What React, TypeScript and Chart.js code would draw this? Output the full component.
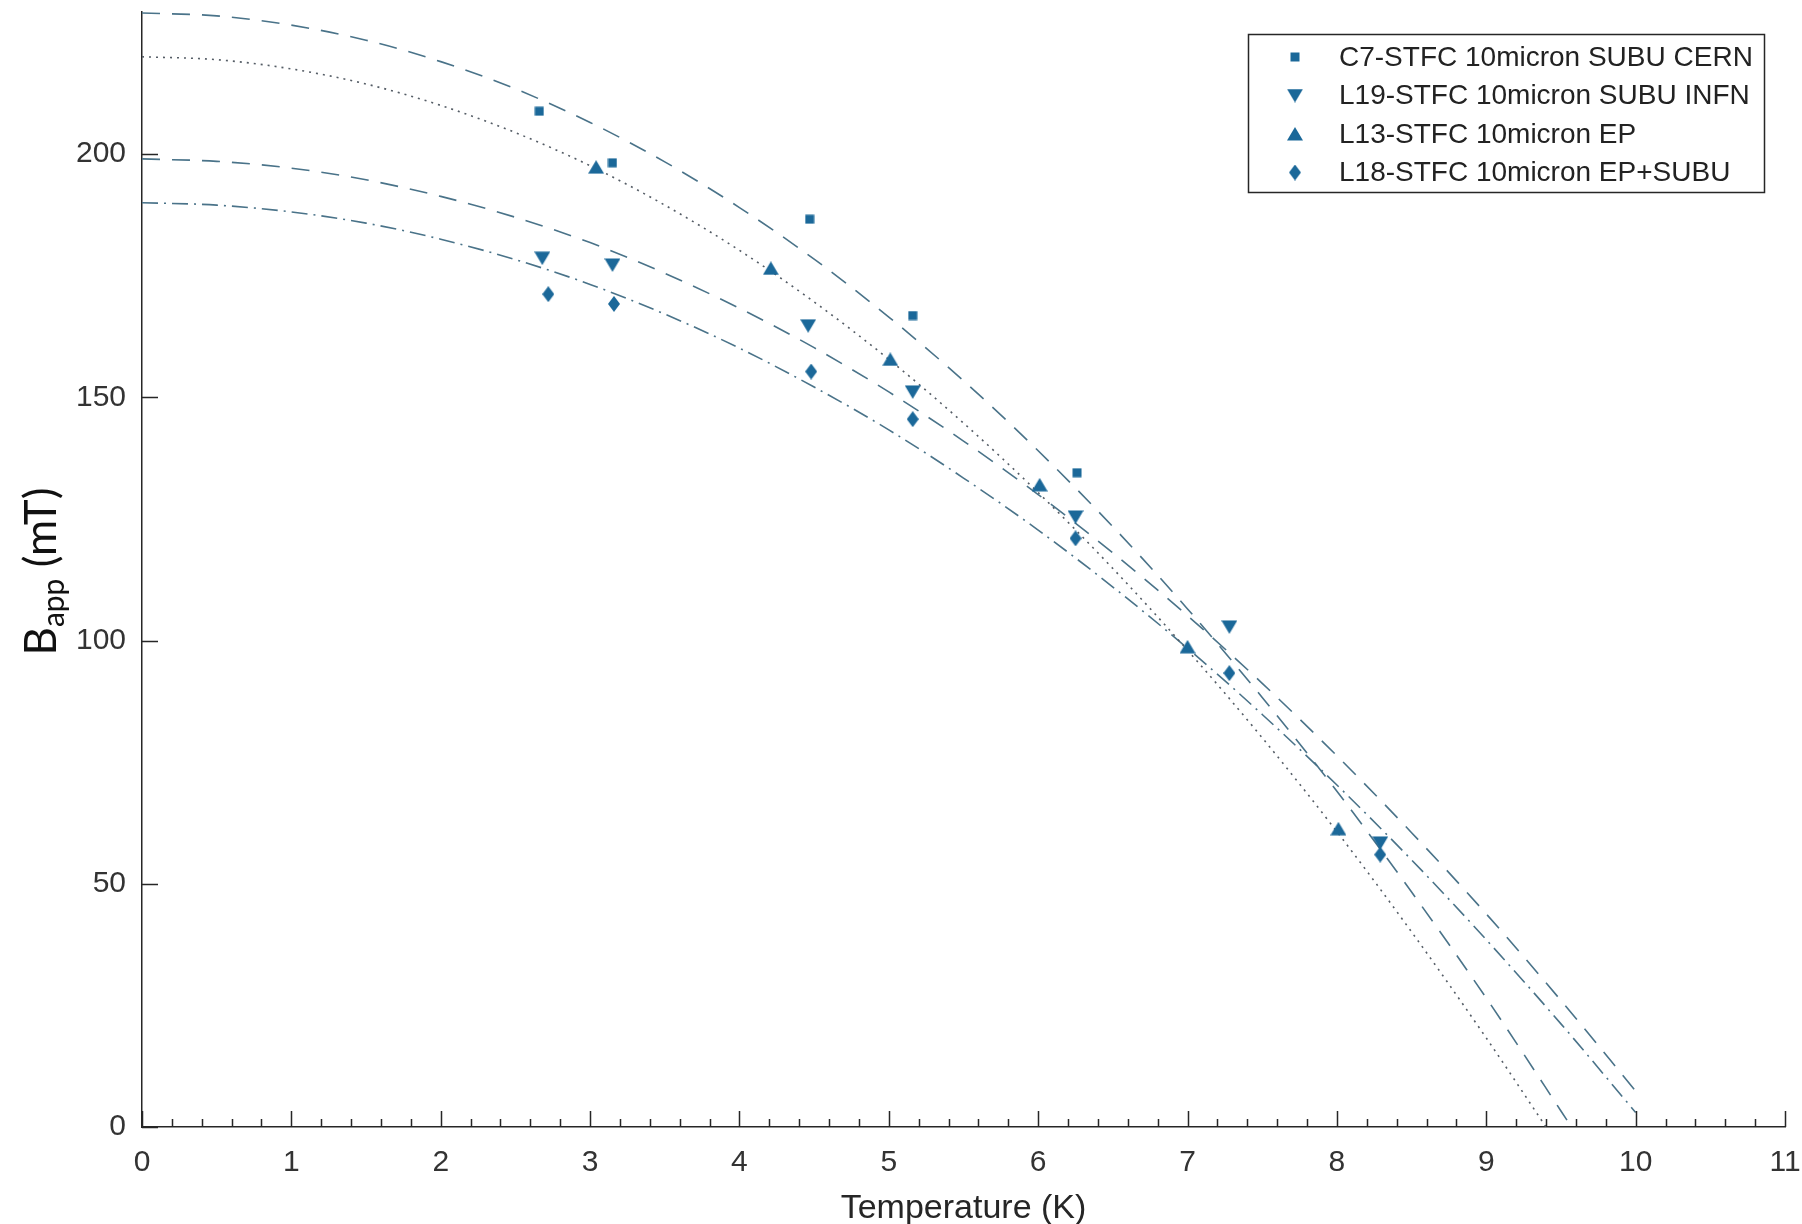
import React, { useEffect, useRef } from "react";
import { Chart, registerables } from "chart.js";

Chart.register(...registerables);

// ---------------- data ----------------
const seriesLabels = [
  "C7-STFC 10micron SUBU CERN",
  "L19-STFC 10micron SUBU INFN",
  "L13-STFC 10micron EP",
  "L18-STFC 10micron EP+SUBU",
];

const c7Temps = [2.66, 3.15, 4.47, 5.16, 6.26];
const c7Field = [208.8, 198.2, 186.6, 166.8, 134.5];

const l19Temps = [2.68, 3.15, 4.46, 5.16, 6.25, 7.28, 8.29];
const l19Field = [178.6, 177.2, 164.7, 151.1, 125.4, 102.8, 58.4];

const l13Temps = [3.04, 4.21, 5.01, 6.01, 7.0, 8.01];
const l13Field = [197.3, 176.5, 157.8, 132.0, 98.7, 61.3];

const l18Temps = [2.72, 3.16, 4.48, 5.16, 6.25, 7.28, 8.29];
const l18Field = [171.2, 169.2, 155.3, 145.5, 121.0, 93.3, 56.0];

// fitted curves
const fitC7Temps = [0, 0.5, 1, 1.5, 2, 2.5, 3, 3.5, 4, 4.5, 5, 5.5, 6, 6.5, 7, 7.5, 8, 8.5, 9, 9.5, 9.57];
const fitC7Field = [229.0, 228.4, 226.5, 223.4, 219.0, 213.4, 206.5, 198.4, 189.0, 178.4, 166.5, 153.4, 139.0, 123.4, 106.5, 88.3, 69.0, 48.3, 26.5, 3.3, 0];

const fitL13Temps = [0, 0.5, 1, 1.5, 2, 2.5, 3, 3.5, 4, 4.5, 5, 5.5, 6, 6.5, 7, 7.5, 8, 8.5, 9, 9.4];
const fitL13Field = [220.0, 219.4, 217.5, 214.4, 210.0, 204.4, 197.6, 189.5, 180.2, 169.6, 157.8, 144.7, 130.4, 114.8, 98.0, 80.0, 60.7, 40.1, 18.3, 0];

const fitL19Temps = [0, 0.5, 1, 1.5, 2, 2.5, 3, 3.5, 4, 4.5, 5, 5.5, 6, 6.5, 7, 7.5, 8, 8.5, 9, 9.5, 10];
const fitL19Field = [199.0, 198.5, 197.1, 194.7, 191.3, 187.0, 181.8, 175.5, 168.3, 160.2, 151.1, 141.0, 130.0, 118.0, 105.1, 91.2, 76.3, 60.5, 43.8, 26.0, 7.4];

const fitL18Temps = [0, 0.5, 1, 1.5, 2, 2.5, 3, 3.5, 4, 4.5, 5, 5.5, 6, 6.5, 7, 7.5, 8, 8.5, 9, 9.5, 10];
const fitL18Field = [190.0, 189.5, 188.1, 185.8, 182.5, 178.3, 173.2, 167.1, 160.1, 152.1, 143.3, 133.4, 122.7, 111.0, 98.4, 84.8, 70.3, 54.9, 38.5, 21.2, 3.0];

const xMajorTicks = [0, 1, 2, 3, 4, 5, 6, 7, 8, 9, 10, 11];
const yMajorTicks = [0, 50, 100, 150, 200];
const xTitle = "Temperature (K)";
const yTitleMain = "B";
const yTitleSub = "app";
const yTitleUnit = " (mT)";

// ---------------- styling ----------------
const MARKER = "#1b6899";
const FIT_DASH = "#4a7389";
const FIT_DOT = "#555d66";
const AXIS = "#262626";
const TICK_TEXT = "#333333";
const SANS = "'Liberation Sans', Arial, Helvetica, sans-serif";

function toPoints(xs: number[], ys: number[]) {
  return xs.map((x, i) => ({ x, y: ys[i] }));
}

function makeMarker(shape: string): HTMLCanvasElement {
  const c = document.createElement("canvas");
  let w = 10, h = 10;
  if (shape === "down" || shape === "up") { w = 16; h = 14; }
  if (shape === "diamond") { w = 12; h = 16; }
  c.width = w; c.height = h;
  const g = c.getContext("2d")!;
  g.fillStyle = MARKER;
  g.beginPath();
  if (shape === "square") {
    g.rect(0.5, 0.5, w - 1, h - 1);
  } else if (shape === "down") {
    g.moveTo(0, 0.5); g.lineTo(w, 0.5); g.lineTo(w / 2, h); g.closePath();
  } else if (shape === "up") {
    g.moveTo(w / 2, 0); g.lineTo(w, h - 0.5); g.lineTo(0, h - 0.5); g.closePath();
  } else {
    g.moveTo(w / 2, 0); g.lineTo(w, h / 2); g.lineTo(w / 2, h); g.lineTo(0, h / 2); g.closePath();
  }
  g.fill();
  return c;
}

export default function App() {
  const ref = useRef<HTMLCanvasElement | null>(null);

  useEffect(() => {
    if (!ref.current) return;
    const markers = [makeMarker("square"), makeMarker("down"), makeMarker("up"), makeMarker("diamond")];

    const decorPlugin = {
      id: "matlabDecor",
      afterDraw(chart: any) {
        const ctx = chart.ctx as CanvasRenderingContext2D;
        const xs = chart.scales.x;
        const ys = chart.scales.y;
        const area = chart.chartArea;
        ctx.save();
        // inward tick marks
        ctx.strokeStyle = AXIS;
        ctx.lineWidth = 1.5;
        ctx.beginPath();
        for (let i = 0; i < xMajorTicks.length; i++) {
          const v = xMajorTicks[i];
          const px = Math.round(xs.getPixelForValue(v)) + 0.5;
          ctx.moveTo(px, area.bottom);
          ctx.lineTo(px, area.bottom - 16);
          if (i < xMajorTicks.length - 1) {
            const next = xMajorTicks[i + 1];
            for (let k = 1; k < 5; k++) {
              const mv = v + ((next - v) * k) / 5;
              const mx = Math.round(xs.getPixelForValue(mv)) + 0.5;
              ctx.moveTo(mx, area.bottom);
              ctx.lineTo(mx, area.bottom - 8);
            }
          }
        }
        for (const v of yMajorTicks) {
          const py = Math.round(ys.getPixelForValue(v)) + 0.5;
          ctx.moveTo(area.left, py);
          ctx.lineTo(area.left + 16, py);
        }
        ctx.stroke();

        // y axis title with subscript
        ctx.fillStyle = "#111111";
        const mainFont = "44px Lato, 'Open Sans', sans-serif";
        const subFont = "30px Lato, 'Open Sans', sans-serif";
        ctx.font = mainFont;
        const wB = ctx.measureText(yTitleMain).width;
        const wU = ctx.measureText(yTitleUnit).width;
        ctx.font = subFont;
        const wS = ctx.measureText(yTitleSub).width;
        const total = wB + wS + wU;
        const cy = (area.top + area.bottom) / 2 + 2;
        ctx.translate(56, cy);
        ctx.rotate(-Math.PI / 2);
        ctx.textBaseline = "alphabetic";
        ctx.textAlign = "left";
        let cx = -total / 2;
        ctx.font = mainFont;
        ctx.fillText(yTitleMain, cx, 0);
        cx += wB;
        ctx.font = subFont;
        ctx.fillText(yTitleSub, cx, 8);
        cx += wS;
        ctx.font = mainFont;
        ctx.fillText(yTitleUnit, cx, 0);
        ctx.restore();

        // legend box
        ctx.save();
        const bx = 1248, by = 34, bw = 516, bh = 158;
        ctx.fillStyle = "#ffffff";
        ctx.fillRect(bx, by, bw, bh);
        ctx.strokeStyle = AXIS;
        ctx.lineWidth = 1.5;
        ctx.strokeRect(bx + 0.5, by + 0.5, bw, bh);
        ctx.font = "28px " + SANS;
        ctx.fillStyle = "#222222";
        ctx.textBaseline = "middle";
        ctx.textAlign = "left";
        seriesLabels.forEach((lab, i) => {
          const ry = 57 + i * 38.5;
          const m = markers[i];
          ctx.drawImage(m, 1295 - m.width / 2, ry - m.height / 2);
          ctx.fillText(lab, 1339, ry + 1);
        });
        ctx.restore();
      },
    };

    const pointDs = (i: number, xs: number[], ys: number[]) => ({
      label: seriesLabels[i],
      data: toPoints(xs, ys),
      showLine: false,
      pointStyle: markers[i],
      pointRadius: 8,
      pointHoverRadius: 8,
      backgroundColor: MARKER,
      borderColor: MARKER,
    });
    const fitDs = (label: string, xs: number[], ys: number[], dash: number[], color: string) => ({
      label,
      data: toPoints(xs, ys),
      showLine: true,
      pointRadius: 0,
      borderColor: color,
      borderWidth: 1.6,
      borderDash: dash,
      cubicInterpolationMode: "monotone",
      fill: false,
    });

    const chart = new Chart(ref.current, {
      type: "line",
      data: {
        datasets: [
          pointDs(0, c7Temps, c7Field),
          pointDs(1, l19Temps, l19Field),
          pointDs(2, l13Temps, l13Field),
          pointDs(3, l18Temps, l18Field),
          fitDs("C7 fit", fitC7Temps, fitC7Field, [18, 12], FIT_DASH),
          fitDs("L19 fit", fitL19Temps, fitL19Field, [18, 12], FIT_DASH),
          fitDs("L13 fit", fitL13Temps, fitL13Field, [2, 5], FIT_DOT),
          fitDs("L18 fit", fitL18Temps, fitL18Field, [16, 6, 2, 6], FIT_DASH),
        ] as any,
      },
      options: {
        responsive: false,
        devicePixelRatio: 1,
        animation: false,
        layout: { padding: { top: 12, right: 17, left: 0, bottom: 0 } },
        plugins: {
          legend: { display: false },
          title: { display: false },
          tooltip: { enabled: false },
        },
        scales: {
          x: {
            type: "linear",
            position: "bottom",
            min: 0,
            max: 11,
            grid: { display: false, drawTicks: false },
            border: { display: true, color: AXIS, width: 1.5 },
            ticks: {
              stepSize: 1,
              includeBounds: false,
              autoSkip: false,
              maxRotation: 0,
              padding: 18,
              color: TICK_TEXT,
              font: { family: SANS, size: 30 },
            },
            title: {
              display: true,
              text: xTitle,
              color: AXIS,
              font: { family: SANS, size: 34 },
              padding: { top: 0, bottom: -5 },
            },
            afterFit: (s: any) => {
              s.height = 97;
              s.paddingLeft = 0;
              s.paddingRight = 0;
            },
          },
          y: {
            type: "linear",
            min: 0,
            max: 229.2,
            grid: { display: false, drawTicks: false },
            border: { display: true, color: AXIS, width: 1.5 },
            ticks: {
              stepSize: 50,
              includeBounds: false,
              padding: 16,
              color: TICK_TEXT,
              font: { family: SANS, size: 30 },
            },
            afterFit: (s: any) => {
              s.width = 142;
              s.paddingTop = 0;
              s.paddingBottom = 0;
            },
          },
        },
      } as any,
      plugins: [decorPlugin],
    });

    return () => chart.destroy();
  }, []);

  return (
    <div style={{ position: "absolute", left: 0, top: 0, width: 1802, height: 1224, background: "#ffffff" }}>
      <canvas ref={ref} width={1802} height={1224} style={{ display: "block", width: 1802, height: 1224 }} />
    </div>
  );
}
